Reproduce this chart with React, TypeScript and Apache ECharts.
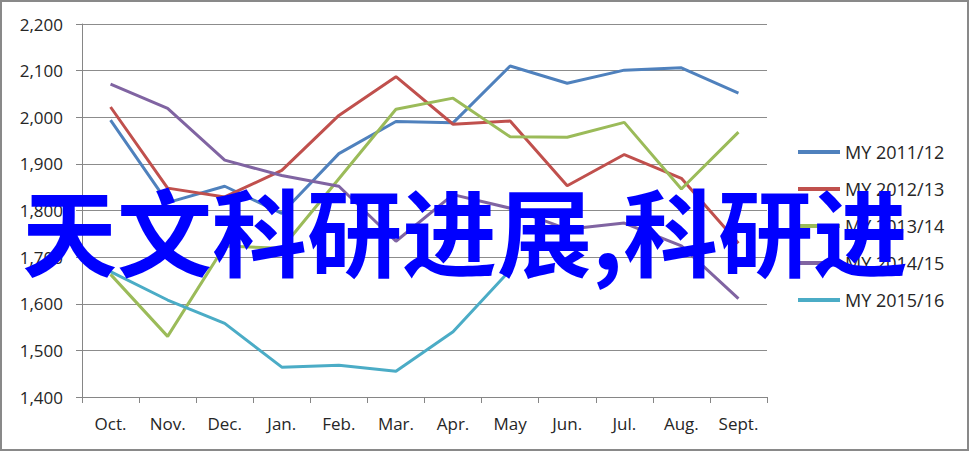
import { useEffect, useRef } from "react";
import * as echarts from "echarts";

const months = ["Oct.", "Nov.", "Dec.", "Jan.", "Feb.", "Mar.", "Apr.", "May", "Jun.", "Jul.", "Aug.", "Sept."];
const seriesNames = ["MY 2011/12", "MY 2012/13", "MY 2013/14", "MY 2014/15", "MY 2015/16"];
const my2011 = [1994, 1817, 1852, 1794, 1922, 1991, 1988, 2110, 2073, 2101, 2106, 2052];
const my2012 = [2022, 1848, 1829, 1886, 2004, 2087, 1985, 1992, 1853, 1920, 1869, 1730];
const my2013 = [1663, 1530, 1724, 1719, 1868, 2017, 2041, 1958, 1957, 1989, 1846, 1968];
const my2014 = [2071, 2019, 1908, 1875, 1852, 1734, 1834, 1805, 1760, 1773, 1724, 1611];
const my2015 = [1669, 1608, 1558, 1464, 1468, 1455, 1540, 1672];
const lineColors = ["#4F81BD", "#C0504D", "#9BBB59", "#8064A2", "#4BACC6"];
const overlayText = "天文科研进展,科研进";

const App = () => {
  const chartRef = useRef<HTMLDivElement>(null);

  useEffect(() => {
    if (!chartRef.current) return;
    const chart = echarts.init(chartRef.current, null, { renderer: "svg" });
    const allData = [my2011, my2012, my2013, my2014, my2015];

    chart.setOption({
      animation: false,
      textStyle: { fontFamily: "'Open Sans', sans-serif" },
      grid: { left: 82, right: 202, top: 24, bottom: 54 },
      legend: {
        orient: "vertical",
        left: 793,
        top: 136,
        icon: "rect",
        itemWidth: 42,
        itemHeight: 4,
        itemGap: 15,
        textStyle: { color: "#262626", fontSize: 18, lineHeight: 22, fontFamily: "'Open Sans', sans-serif" },
        data: seriesNames,
      },
      xAxis: {
        type: "category",
        data: months,
        boundaryGap: true,
        axisLine: { lineStyle: { color: "#868686", width: 1 } },
        axisTick: { show: true, length: 6, lineStyle: { color: "#868686" } },
        axisLabel: { color: "#262626", fontSize: 17, margin: 18 },
      },
      yAxis: {
        type: "value",
        min: 1400,
        max: 2200,
        interval: 100,
        axisLine: { show: true, lineStyle: { color: "#868686", width: 1 } },
        axisTick: { show: true, length: 6, lineStyle: { color: "#868686" } },
        axisLabel: {
          color: "#262626",
          fontSize: 17,
          margin: 19,
          formatter: (v: number) => v.toLocaleString("en-US"),
        },
        splitLine: { lineStyle: { color: "#8c8c8c", width: 1 } },
      },
      series: seriesNames.map((name, i) => ({
        name,
        type: "line",
        data: allData[i],
        symbol: "none",
        lineStyle: { color: lineColors[i], width: 3 },
        itemStyle: { color: lineColors[i] },
        z: 2,
      })),
      graphic: [
        {
          type: "text",
          left: 22,
          top: 181,
          z: 100,
          style: {
            text: overlayText,
            fill: "#0000FF",
            font: "bold 95px 'Noto Sans CJK SC', sans-serif",
          },
        },
      ],
    });

    return () => {
      chart.dispose();
    };
  }, []);

  return (
    <div
      style={{
        position: "fixed",
        left: 0,
        top: 0,
        width: 969,
        height: 451,
        boxSizing: "border-box",
        border: "2px solid #898989",
        background: "#fff",
      }}
    >
      <div ref={chartRef} style={{ position: "absolute", left: -2, top: -2, width: 969, height: 451 }} />
    </div>
  );
};

export default App;
